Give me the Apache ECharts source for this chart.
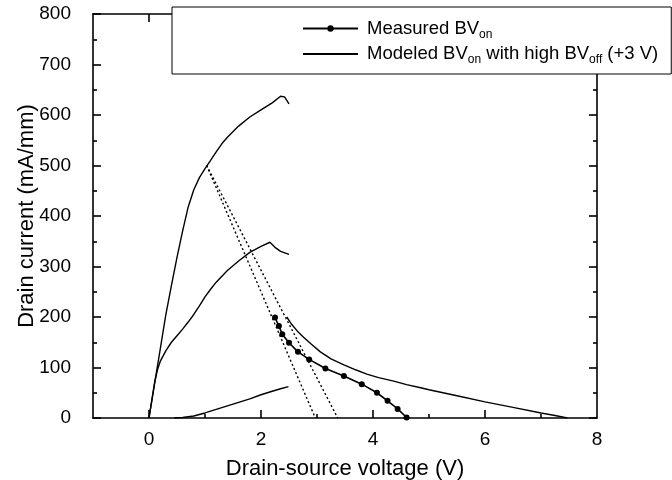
<!DOCTYPE html>
<html>
<head>
<meta charset="utf-8">
<script src="https://cdn.jsdelivr.net/npm/echarts@6/dist/echarts.min.js"></script>
<style>html,body{margin:0;padding:0;background:#fff}#c{width:672px;height:480px}</style>
</head>
<body>
<div id="c"></div>
<script>
// ---- data ----
const xTickLabels = [0, 2, 4, 6, 8];
const xMajorTicks = [0, 2, 4, 6];
const xMinorTicks = [1, 3, 5, 7];
const curveHighGate = [[0,0],[0.1,68],[0.2,136],[0.3,204],[0.4,262],[0.5,318],[0.6,370],[0.7,418],[0.8,452],[0.9,476],[1.0,494],[1.1,510],[1.2,527],[1.3,543],[1.4,556],[1.6,578],[1.8,596],[2.0,610],[2.2,624],[2.35,637],[2.42,636],[2.5,622]];
const curveMidGate = [[0,0],[0.05,35],[0.1,70],[0.15,95],[0.2,112],[0.3,133],[0.4,150],[0.5,163],[0.6,176],[0.7,190],[0.8,205],[0.9,222],[1.0,240],[1.1,255],[1.2,269],[1.4,292],[1.6,311],[1.8,328],[2.0,340],[2.16,348],[2.25,338],[2.35,330],[2.5,324]];
const curveLowGate = [[0.45,0],[0.6,1],[0.8,4],[1.0,10],[1.2,17],[1.4,24],[1.6,31],[1.8,38],[2.0,46],[2.2,53],[2.35,58],[2.49,62]];
const measuredBVon = [[2.25,199],[2.32,182],[2.38,166],[2.5,149],[2.66,131],[2.86,116],[3.15,98],[3.48,83],[3.8,67],[4.07,50],[4.26,34],[4.44,18],[4.6,1]];
const modeledBVon = [[2.46,200],[2.55,185],[2.65,172],[2.76,160],[2.9,146],[3.06,131],[3.25,117],[3.48,105],[3.7,95],[3.89,87],[4.1,80],[4.37,73],[4.6,66],[4.85,60],[5.0,56],[5.5,44],[6.0,32],[6.5,21],[7.0,10],[7.25,5],[7.47,0]];
const loadLine1 = [[1.03,500],[2.97,0]];
const loadLine2 = [[1.03,500],[3.37,0]];

const FONT = 'Liberation Sans, Arial, sans-serif';
const chart = echarts.init(document.getElementById('c'), null, {renderer: 'canvas'});

function xAx(pos, ticks, len, showLine, showLabel) {
  return {
    type: 'value', position: pos, min: -1, max: 8,
    axisLine: {show: showLine, onZero: false, lineStyle: {color: '#000', width: 1.6}},
    axisTick: {show: true, inside: true, length: len, customValues: ticks, lineStyle: {color: '#000', width: 1.6}},
    axisLabel: {show: showLabel, customValues: xTickLabels, color: '#000', fontSize: 19, fontFamily: FONT, margin: 12},
    splitLine: {show: false}
  };
}
function yAx(pos, showLabel) {
  return {
    type: 'value', position: pos, min: 0, max: 800, interval: 100,
    axisLine: {show: true, onZero: false, lineStyle: {color: '#000', width: 1.6}},
    axisTick: {show: true, inside: true, length: 8, lineStyle: {color: '#000', width: 1.6}},
    minorTick: {show: true, splitNumber: 2, length: 4, lineStyle: {color: '#000', width: 1.6}},
    axisLabel: {show: showLabel, color: '#000', fontSize: 19, fontFamily: FONT, margin: 22},
    splitLine: {show: false}
  };
}
const xAxes = [xAx('bottom', xMajorTicks, 8, true, true), xAx('bottom', xMinorTicks, 4, false, false),
               xAx('top', xMajorTicks, 8, true, false), xAx('top', xMinorTicks, 4, false, false)];
xAxes[0].name = 'Drain-source voltage (V)';
xAxes[0].nameLocation = 'middle';
xAxes[0].nameGap = 40;
xAxes[0].nameMoveOverlap = false;
xAxes[0].nameTextStyle = {color: '#000', fontSize: 22, fontFamily: FONT};
const yAxes = [yAx('left', true), yAx('right', false)];
yAxes[0].name = 'Drain current (mA/mm)';
yAxes[0].nameLocation = 'middle';
yAxes[0].nameGap = 55;
yAxes[0].nameMoveOverlap = false;
yAxes[0].nameTextStyle = {color: '#000', fontSize: 22, fontFamily: FONT};

function solid(name, data) {
  return {name, type: 'line', data, symbol: 'none', showSymbol: false, lineStyle: {color: '#000', width: 1.4}, itemStyle: {color: '#000'}, z: 3};
}
function dotted(name, data) {
  return {name, type: 'line', data, symbol: 'none', lineStyle: {color: '#000', width: 1.4, type: [2, 2.5]}, z: 3};
}

chart.setOption({
  animation: false,
  backgroundColor: '#fff',
  grid: {left: 93, right: 75, top: 14, bottom: 62, containLabel: false, outerBoundsMode: 'none'},
  xAxis: xAxes,
  yAxis: yAxes,
  legend: {
    data: [{name: 'Measured BVon'}, {name: 'Modeled BVon', itemStyle: {opacity: 0}}],
    orient: 'vertical', left: 172, top: 7,
    padding: [12, 13, 8, 130],
    itemGap: 4, itemWidth: 55, itemHeight: 8,
    backgroundColor: '#fff', borderColor: '#000', borderWidth: 1, borderRadius: 0,
    selectedMode: false,
    formatter: function (n) {
      return n === 'Measured BVon' ? '{f|Measured BV}{s|on}' : '{f|Modeled BV}{s|on}{t| with high BV}{s|off}{t| (+3 V)}';
    },
    textStyle: {
      color: '#000', fontFamily: FONT, fontSize: 18.5,
      rich: {
        f: {fontSize: 18.5, fontFamily: FONT, color: '#000', lineHeight: 24, padding: [0, 0, 0, 4]},
        t: {fontSize: 18.5, fontFamily: FONT, color: '#000', lineHeight: 24},
        s: {fontSize: 12, fontFamily: FONT, color: '#000', lineHeight: 12, verticalAlign: 'bottom'}
      }
    }
  },
  series: [
    solid('high', curveHighGate),
    solid('mid', curveMidGate),
    solid('low', curveLowGate),
    dotted('load1', loadLine1),
    dotted('load2', loadLine2),
    {name: 'Measured BVon', type: 'line', data: measuredBVon, symbol: 'circle', symbolSize: 6, showSymbol: true,
     lineStyle: {color: '#000', width: 1.6}, itemStyle: {color: '#000'}, z: 4},
    solid('Modeled BVon', modeledBVon)
  ]
});
</script>
</body>
</html>
